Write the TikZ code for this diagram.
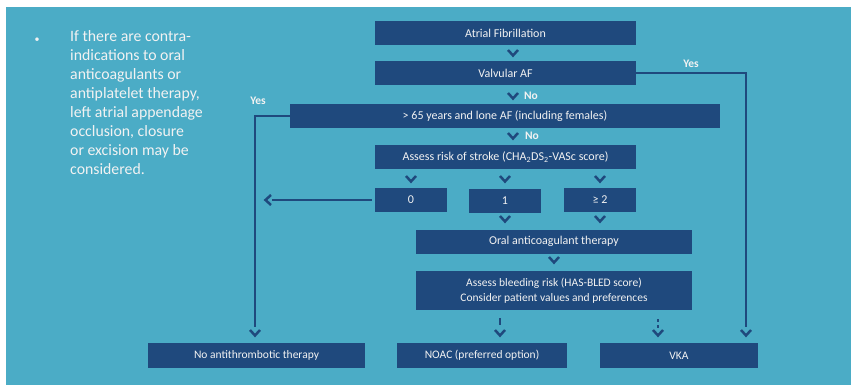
\documentclass[tikz,border=0pt]{standalone}
\usepackage{fontspec}
\setmainfont{Carlito}
\usetikzlibrary{calc}
\definecolor{teal}{RGB}{75,172,198}
\definecolor{navy}{RGB}{31,73,125}
\definecolor{txt}{RGB}{242,242,242}
\tikzset{
  navbox/.style={fill=navy, draw=none, text=txt, font=\fontsize{12}{14}\selectfont, inner sep=0pt, align=center},
  ln/.style={draw=navy, line width=2.6pt},
  lbl/.style={text=txt, font=\fontsize{11.5}{12}\selectfont\bfseries, inner sep=0pt},
  chevd/.pic={\draw[navy, line width=2.5pt, line join=miter] (-5,-3) -- (0,2.5) -- (5,-3);},
  chevl/.pic={\draw[navy, line width=2.5pt, line join=miter] (3,-5) -- (-2.5,0) -- (3,5);}
}
\begin{document}
\begin{tikzpicture}[x=1pt,y=-1pt]
\useasboundingbox (0,0) rectangle (851,385);
\fill[white] (0,0) rectangle (851,385);
\fill[teal] (6,7) rectangle (851,385);

% bullet text
\node[text=txt, font=\fontsize{10}{19}\selectfont, anchor=base] (bul) at (37,43) {•};
\node[text=txt, font=\fontsize{15.8}{19}\selectfont, anchor=north west, align=left, inner sep=0pt] (note) at (70,30)
 {If there are contra-\\indications to oral\\anticoagulants or\\antiplatelet therapy,\\left atrial appendage\\occlusion, closure\\or excision may be\\considered.};

% boxes
\node[navbox, minimum width=261, minimum height=24] (af) at (505.5,33) {Atrial Fibrillation};
\node[navbox, minimum width=261, minimum height=24] (valv) at (505.5,73) {Valvular AF};
\node[navbox, minimum width=430, minimum height=24] (age) at (505,116) {> 65 years and lone AF (including females)};
\node[navbox, minimum width=261, minimum height=24] (strk) at (505.5,157) {Assess risk of stroke (CHA\textsubscript{2}DS\textsubscript{2}-VASc score)};
\node[navbox, minimum width=72, minimum height=24] (s0) at (411,200) {0};
\node[navbox, minimum width=72, minimum height=24] (s1) at (505,200.5) {1};
\node[navbox, minimum width=72, minimum height=24] (s2) at (600,199.5) {≥ 2};
\node[navbox, minimum width=276, minimum height=24] (oac) at (554,241.5) {Oral anticoagulant therapy};
\node[navbox, minimum width=276, minimum height=39, font=\fontsize{11.5}{15}\selectfont] (bleed) at (554,290.5) {Assess bleeding risk (HAS-BLED score)\\Consider patient values and preferences};
\node[navbox, minimum width=217, minimum height=25, font=\fontsize{11.5}{14}\selectfont] (none) at (256.5,355.5) {No antithrombotic therapy};
\node[navbox, minimum width=170, minimum height=25, font=\fontsize{11.5}{14}\selectfont] (noac) at (482,355.5) {NOAC (preferred option)};
\node[navbox, minimum width=158, minimum height=25, font=\fontsize{11.5}{14}\selectfont] (vka) at (679,355.5) {VKA};

% chevrons between boxes
\pic at (513,53) {chevd};
\pic at (513,96) {chevd};
\pic at (513,136) {chevd};
\pic at (411,179) {chevd};
\pic at (505,179) {chevd};
\pic at (600,179) {chevd};
\pic at (505,219) {chevd};
\pic at (600,219) {chevd};
\pic at (554,260) {chevd};
\pic at (500,333) {chevd};
\pic at (658,333) {chevd};
\pic at (746,333) {chevd};
\pic at (255,333) {chevd};

% labels
\node[lbl] (no1) at (531,96) {No};
\node[lbl] (no2) at (532,136) {No};
\node[lbl] (yes1) at (691,64) {Yes};
\node[lbl] (yes2) at (258,101) {Yes};

% connectors
\coordinate (yr) at (746,327);
\coordinate (yl) at (255,327);
\draw[ln] (valv.east) -| (yr);
\draw[ln] (age.west) -| (yl);
\coordinate (z0) at (272,200);
\draw[ln] ($(s0.west)+(-3,0)$) -- (z0);
\pic at (268,200) {chevl};
\coordinate (n1) at (500,318);
\coordinate (n2) at (500,325);
\draw[ln] (n1) -- (n2);
\fill[navy] (656.7,319.3) rectangle (659.3,322);
\fill[navy] (656.7,325) rectangle (659.3,327.7);
\end{tikzpicture}
\end{document}
